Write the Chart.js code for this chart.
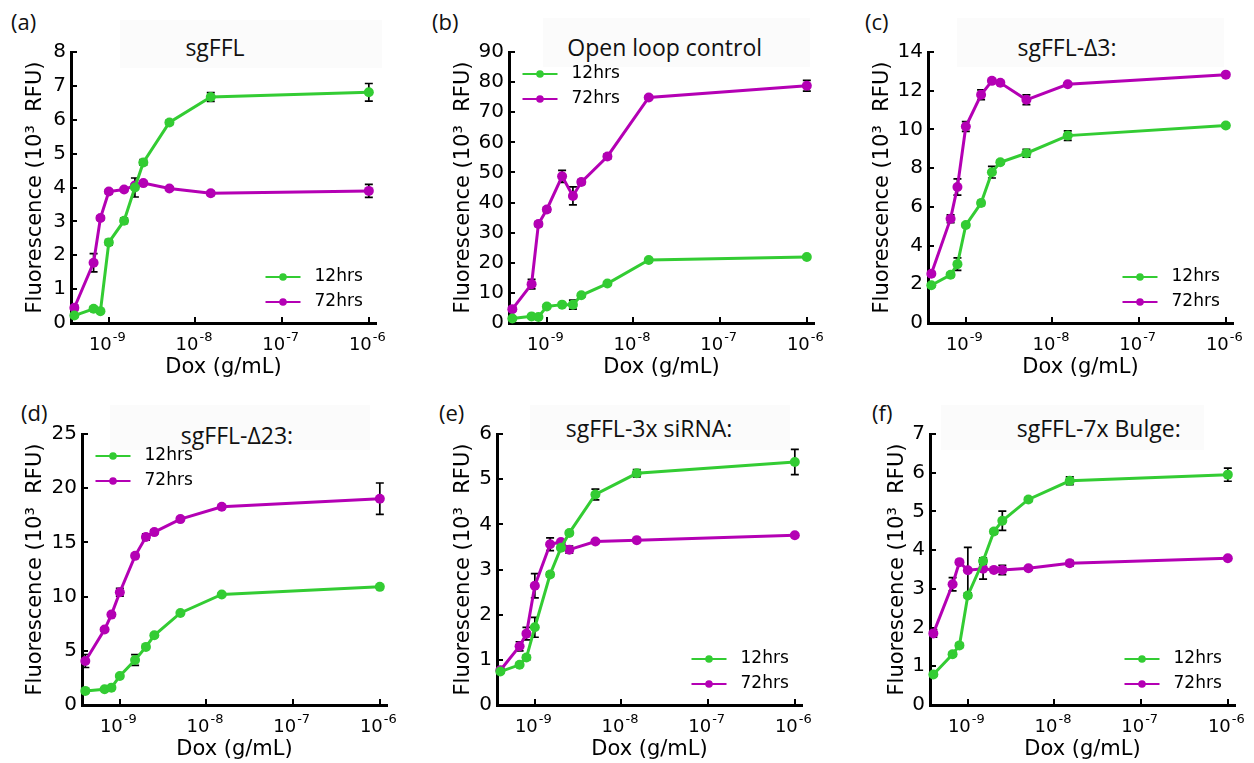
<!DOCTYPE html>
<html>
<head>
<meta charset="utf-8">
<title>sgFFL Dox response</title>
<script src="https://cdn.jsdelivr.net/npm/chart.js@4.4.1/dist/chart.umd.min.js"></script>
<style>
  html, body { margin: 0; padding: 0; background: #fff; }
  #fig { position: relative; width: 1254px; height: 763px; overflow: hidden; }
  #fig canvas { position: absolute; }
  .letter { position: absolute; font: 22px 'Open Sans', sans-serif; color: #111; line-height: 1; }
  .title-box { position: absolute; background: #fbfbfb; }
  .title { position: absolute; font: 23px 'Open Sans', sans-serif; color: #111; transform: translate(-50%, -50%); white-space: nowrap; }
</style>
</head>
<body>
<div id="fig"></div>
<script>
// --- Data ---
// Dox doses (g/mL), same for every construct
const dox = [4e-10, 6.67e-10, 8e-10, 1e-9, 1.5e-9, 2e-9, 2.5e-9, 5e-9, 1.5e-8, 1e-6];
const decadeTicks = [1e-9, 1e-8, 1e-7, 1e-6];
const seriesLabels = ['12hrs', '72hrs'];

// (a) sgFFL
const sgffl12 = [0.22, 0.42, 0.35, 2.38, 3.02, 4.0, 4.74, 5.92, 6.67, 6.81];
const sgffl12Err = [0.04, 0.05, 0.04, 0.08, 0.08, 0.28, 0.08, 0.06, 0.13, 0.26];
const sgffl72 = [0.45, 1.78, 3.1, 3.88, 3.94, 4.06, 4.13, 3.97, 3.83, 3.9];
const sgffl72Err = [0.08, 0.27, 0.06, 0.06, 0.05, 0.05, 0.05, 0.05, 0.06, 0.19];

// (b) open loop control
const open12 = [1.5, 2.2, 2.0, 5.5, 6.1, 6.1, 9.2, 13.1, 20.9, 21.9];
const open12Err = [0.3, 0.4, 0.4, 0.6, 0.5, 1.5, 0.6, 0.5, 0.5, 0.5];
const open72 = [4.6, 12.9, 32.9, 37.7, 48.7, 42.2, 46.8, 55.3, 74.9, 78.8];
const open72Err = [0.6, 1.6, 0.8, 0.8, 2.0, 3.0, 0.8, 0.8, 0.6, 1.8];

// (c) sgFFL-Δ3
const d3_12 = [1.95, 2.49, 3.04, 5.06, 6.2, 7.79, 8.3, 8.77, 9.68, 10.2];
const d3_12Err = [0.08, 0.1, 0.32, 0.1, 0.12, 0.3, 0.1, 0.2, 0.25, 0.1];
const d3_72 = [2.54, 5.39, 7.03, 10.15, 11.79, 12.51, 12.41, 11.53, 12.33, 12.83];
const d3_72Err = [0.08, 0.2, 0.42, 0.25, 0.25, 0.08, 0.08, 0.25, 0.08, 0.08];

// (d) sgFFL-Δ23
const d23_12 = [1.3, 1.45, 1.6, 2.68, 4.15, 5.36, 6.43, 8.49, 10.2, 10.9];
const d23_12Err = [0.15, 0.1, 0.1, 0.15, 0.5, 0.15, 0.15, 0.1, 0.1, 0.1];
const d23_72 = [4.06, 6.96, 8.34, 10.4, 13.76, 15.5, 15.95, 17.15, 18.29, 19.03];
const d23_72Err = [0.6, 0.15, 0.15, 0.35, 0.15, 0.3, 0.2, 0.15, 0.15, 1.45];

// (e) sgFFL-3x siRNA
const si12 = [0.74, 0.89, 1.05, 1.72, 2.89, 3.48, 3.81, 4.66, 5.13, 5.38];
const si12Err = [0.03, 0.03, 0.05, 0.22, 0.05, 0.04, 0.04, 0.12, 0.08, 0.28];
const si72 = [0.77, 1.3, 1.58, 2.64, 3.56, 3.61, 3.44, 3.62, 3.65, 3.76];
const si72Err = [0.03, 0.1, 0.14, 0.27, 0.14, 0.04, 0.08, 0.03, 0.03, 0.03];

// (f) sgFFL-7x Bulge
const bulge12 = [0.79, 1.31, 1.54, 2.83, 3.72, 4.48, 4.76, 5.31, 5.79, 5.95];
const bulge12Err = [0.04, 0.05, 0.05, 0.06, 0.08, 0.06, 0.25, 0.05, 0.1, 0.17];
const bulge72 = [1.85, 3.12, 3.69, 3.48, 3.52, 3.49, 3.49, 3.53, 3.66, 3.79];
const bulge72Err = [0.1, 0.17, 0.04, 0.59, 0.27, 0.04, 0.12, 0.04, 0.07, 0.03];

// --- Look ---
const GREEN = '#33cc33';
const MAGENTA = '#b400b4';
const AXIS_FONT = 'DejaVu Sans';
const X_MIN = 3.66e-10, X_MAX = 1.21e-6;
const PAD_LEFT = 70, PAD_TOP = 50, CANVAS_W = 390, CANVAS_H = 381, X_AXIS_H = 60;

// panel layout: plot-area top-left corner on the page, title box, letter position
const panels = [
  { letter: '(a)', title: 'sgFFL', s12: sgffl12, e12: sgffl12Err, s72: sgffl72, e72: sgffl72Err,
    yMax: 8, yStep: 1, legend: 'br', area: [71, 52.3], yTitleGap: 35,
    box: [120, 20, 262, 48], titleAt: [215, 47], letterAt: [11, 10] },
  { letter: '(b)', title: 'Open loop control', s12: open12, e12: open12Err, s72: open72, e72: open72Err,
    yMax: 90, yStep: 10, legend: 'tl', area: [509.3, 52.3], yTitleGap: 45,
    box: [543, 18, 267, 49], titleAt: [664.7, 47], letterAt: [432, 10] },
  { letter: '(c)', title: 'sgFFL-Δ3:', s12: d3_12, e12: d3_12Err, s72: d3_72, e72: d3_72Err,
    yMax: 14, yStep: 2, legend: 'br', area: [928.3, 52.3], yTitleGap: 45,
    box: [957, 18, 267, 49], titleAt: [1067, 47], letterAt: [865, 10] },
  { letter: '(d)', title: 'sgFFL-Δ23:', s12: d23_12, e12: d23_12Err, s72: d23_72, e72: d23_72Err,
    yMax: 25, yStep: 5, legend: 'tl', area: [82.3, 434.3], yTitleGap: 46,
    box: [110, 405, 260, 45], titleAt: [237, 435], letterAt: [21, 401] },
  { letter: '(e)', title: 'sgFFL-3x siRNA:', s12: si12, e12: si12Err, s72: si72, e72: si72Err,
    yMax: 6, yStep: 1, legend: 'br', area: [497, 434.3], yTitleGap: 33,
    box: [530, 405, 260, 45], titleAt: [649, 428], letterAt: [439, 401] },
  { letter: '(f)', title: 'sgFFL-7x Bulge:', s12: bulge12, e12: bulge12Err, s72: bulge72, e72: bulge72Err,
    yMax: 7, yStep: 1, legend: 'br', area: [929.7, 434.3], yTitleGap: 32,
    box: [941, 405, 263, 45], titleAt: [1098.7, 428], letterAt: [872, 401] }
];

// --- Error bars, inward ticks, power-of-ten labels, inset legend ---
const panelDecor = {
  id: 'panelDecor',
  beforeDatasetsDraw(chart) {
    const { ctx, chartArea } = chart;
    const xs = chart.scales.x, ys = chart.scales.y;
    ctx.save();
    // tick marks pointing into the plot
    ctx.strokeStyle = '#000';
    ctx.lineWidth = 2;
    ctx.beginPath();
    ys.ticks.forEach(t => {
      const py = Math.round(ys.getPixelForValue(t.value));
      ctx.moveTo(chartArea.left, py);
      ctx.lineTo(chartArea.left + 6, py);
    });
    xs.ticks.forEach(t => {
      const px = Math.round(xs.getPixelForValue(t.value));
      ctx.moveTo(px, chartArea.bottom);
      ctx.lineTo(px, chartArea.bottom - 6);
    });
    ctx.stroke();

    // x labels as 10 with a raised exponent
    ctx.fillStyle = '#000';
    ctx.textBaseline = 'alphabetic';
    ctx.textAlign = 'left';
    xs.ticks.forEach(t => {
      const px = xs.getPixelForValue(t.value);
      const exp = String(Math.round(Math.log10(t.value)));
      ctx.font = `18px '${AXIS_FONT}'`;
      const wBase = ctx.measureText('10').width;
      ctx.font = `13px '${AXIS_FONT}'`;
      const wExp = ctx.measureText(exp).width;
      const x0 = px - (wBase + wExp) / 2 - 2;
      ctx.font = `18px '${AXIS_FONT}'`;
      ctx.fillText('10', x0, chartArea.bottom + 27);
      ctx.font = `13px '${AXIS_FONT}'`;
      ctx.fillText(exp, x0 + wBase + 1, chartArea.bottom + 18);
    });

    // error bars
    ctx.lineWidth = 1.7;
    chart.data.datasets.forEach(ds => {
      ds.data.forEach((pt, i) => {
        const e = ds.errors[i];
        const px = xs.getPixelForValue(pt.x);
        const top = ys.getPixelForValue(pt.y + e);
        const bot = ys.getPixelForValue(pt.y - e);
        ctx.beginPath();
        ctx.moveTo(px, top); ctx.lineTo(px, bot);
        ctx.moveTo(px - 4, top); ctx.lineTo(px + 4, top);
        ctx.moveTo(px - 4, bot); ctx.lineTo(px + 4, bot);
        ctx.stroke();
      });
    });
    ctx.restore();
  },
  afterDraw(chart, args, opts) {
    const { ctx, chartArea } = chart;
    const lineLen = 35;
    let x0, y0;
    if (opts.corner === 'tl') {
      x0 = chartArea.left + 13.5;
      y0 = chartArea.top + 22;
    } else {
      x0 = chartArea.right - 110.5;
      y0 = chartArea.bottom - 21 - 25;
    }
    ctx.save();
    ctx.font = `17px '${AXIS_FONT}'`;
    ctx.textBaseline = 'middle';
    chart.data.datasets.forEach((ds, i) => {
      const y = y0 + i * 25;
      ctx.strokeStyle = ds.borderColor;
      ctx.lineWidth = 2.2;
      ctx.beginPath();
      ctx.moveTo(x0, y); ctx.lineTo(x0 + lineLen, y);
      ctx.stroke();
      ctx.fillStyle = ds.borderColor;
      ctx.beginPath();
      ctx.arc(x0 + lineLen / 2, y, 3.8, 0, Math.PI * 2);
      ctx.fill();
      ctx.fillStyle = '#000';
      ctx.fillText(ds.label, x0 + lineLen + 14, y);
    });
    ctx.restore();
  }
};

function makeSeries(label, vals, errs, color) {
  return {
    label,
    data: dox.map((x, i) => ({ x, y: vals[i] })),
    errors: errs,
    borderColor: color,
    backgroundColor: color,
    borderWidth: 3,
    pointRadius: 5,
    pointBorderWidth: 0,
    pointBackgroundColor: color,
    tension: 0,
    clip: false
  };
}

function buildChart(canvas, p) {
  return new Chart(canvas, {
    type: 'line',
    data: {
      datasets: [
        makeSeries(seriesLabels[0], p.s12, p.e12, GREEN),
        makeSeries(seriesLabels[1], p.s72, p.e72, MAGENTA)
      ]
    },
    options: {
      responsive: false,
      animation: false,
      layout: { padding: { top: PAD_TOP, right: CANVAS_W - PAD_LEFT - 305, left: 0, bottom: 0 } },
      plugins: { legend: { display: false }, tooltip: { enabled: false }, panelDecor: { corner: p.legend } },
      scales: {
        x: {
          type: 'logarithmic', min: X_MIN, max: X_MAX,
          afterBuildTicks: s => { s.ticks = decadeTicks.map(v => ({ value: v })); },
          afterFit: s => { s.height = X_AXIS_H; },
          grid: { display: true, drawOnChartArea: false, drawTicks: false },
          border: { display: true, color: '#000', width: 3 },
          ticks: { display: false },
          title: { display: true, text: 'Dox (g/mL)', color: '#000', font: { family: AXIS_FONT, size: 21 }, padding: { top: 0, bottom: 3 } }
        },
        y: {
          min: 0, max: p.yMax,
          afterFit: s => { s.width = PAD_LEFT; },
          grid: { display: true, drawOnChartArea: false, drawTicks: false },
          border: { display: true, color: '#000', width: 3 },
          ticks: { stepSize: p.yStep, padding: 5, color: '#000', font: { family: AXIS_FONT, size: 20 } },
          title: {
            display: true, text: 'Fluorescence (10³  RFU)', color: '#000',
            font: { family: AXIS_FONT, size: 21 },
            padding: { top: PAD_LEFT - p.yTitleGap - 12.6, bottom: 0 }
          }
        }
      }
    },
    plugins: [panelDecor]
  });
}

// --- Build the figure ---
const fig = document.getElementById('fig');
panels.forEach(p => {
  const box = document.createElement('div');
  box.className = 'title-box';
  Object.assign(box.style, { left: p.box[0] + 'px', top: p.box[1] + 'px', width: p.box[2] + 'px', height: p.box[3] + 'px' });
  fig.appendChild(box);

  const title = document.createElement('div');
  title.className = 'title';
  title.textContent = p.title;
  Object.assign(title.style, { left: p.titleAt[0] + 'px', top: p.titleAt[1] + 'px' });
  fig.appendChild(title);

  const letter = document.createElement('div');
  letter.className = 'letter';
  letter.textContent = p.letter;
  Object.assign(letter.style, { left: p.letterAt[0] + 'px', top: p.letterAt[1] + 'px' });
  fig.appendChild(letter);

  const canvas = document.createElement('canvas');
  canvas.width = CANVAS_W;
  canvas.height = CANVAS_H;
  canvas.style.left = (p.area[0] - PAD_LEFT) + 'px';
  canvas.style.top = (p.area[1] - PAD_TOP) + 'px';
  fig.appendChild(canvas);
  buildChart(canvas, p);
});
</script>
</body>
</html>
